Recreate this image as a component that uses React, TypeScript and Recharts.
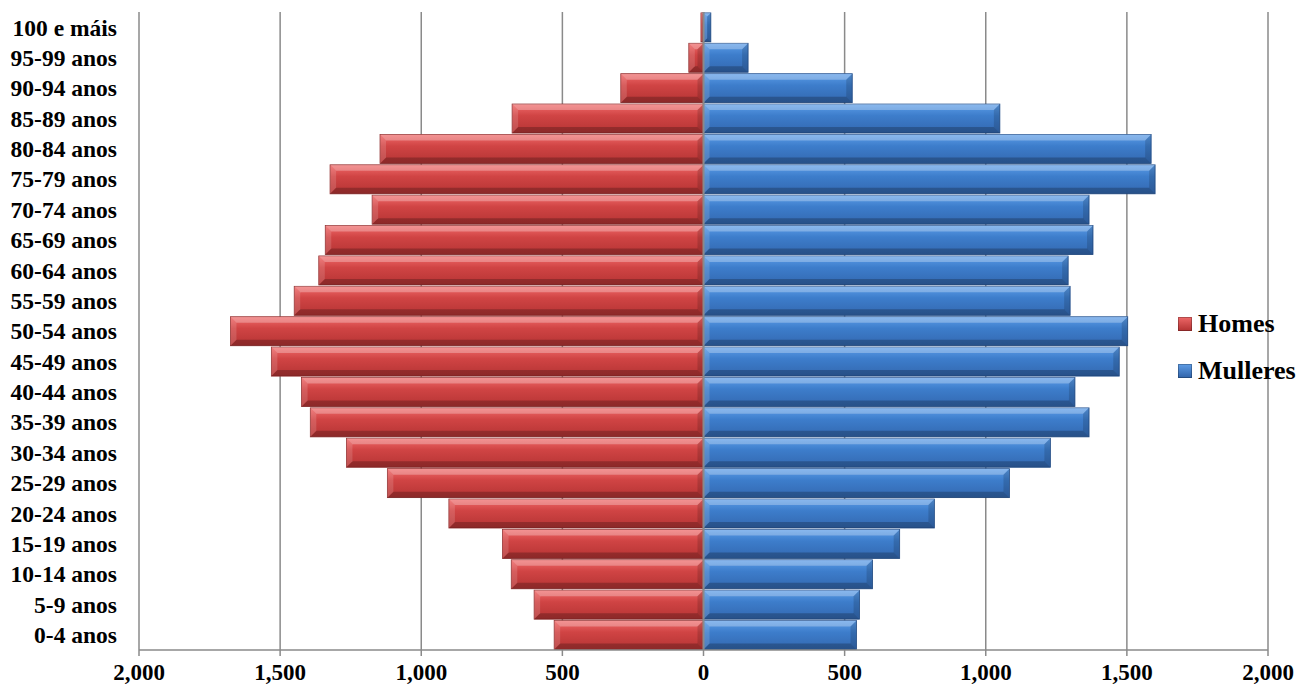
import React from 'react';
import { BarChart, Bar, XAxis, YAxis, CartesianGrid, ReferenceLine } from 'recharts';

const ageGroups = [
  '0-4 anos', '5-9 anos', '10-14 anos', '15-19 anos', '20-24 anos', '25-29 anos',
  '30-34 anos', '35-39 anos', '40-44 anos', '45-49 anos', '50-54 anos', '55-59 anos',
  '60-64 anos', '65-69 anos', '70-74 anos', '75-79 anos', '80-84 anos', '85-89 anos',
  '90-94 anos', '95-99 anos', '100 e máis'
];

const homes = [529, 600, 681, 712, 902, 1120, 1265, 1393, 1424, 1531, 1676, 1450, 1363, 1340, 1174, 1323, 1146, 678, 293, 52, 9];
const mulleres = [542, 553, 599, 695, 818, 1084, 1229, 1366, 1316, 1473, 1503, 1299, 1292, 1380, 1366, 1600, 1586, 1050, 527, 158, 26];

const xTicks = [-2000, -1500, -1000, -500, 0, 500, 1000, 1500, 2000];

const seriesNames = ['Homes', 'Mulleres'];

const FONT = '"Liberation Serif", "Times New Roman", serif';
const GRID = '#8a8a8a';

// men drawn to the left, so stored negative in the table the chart gets
const chartData = ageGroups.map((g, i) => ({
  group: g,
  homes: -homes[i],
  mulleres: mulleres[i],
}));

const fmt = (v: number) => Math.abs(v).toLocaleString('en-US');

const bevelShape = (faceId: string, edge: string) => (props: any) => {
  let { x, y, width, height } = props;
  if (width < 0) { x += width; width = -width; }
  if (!width || !height) return null;
  const b = Math.min(6, height / 4, width / 2);
  const x2 = x + width;
  const y2 = y + height;
  return (
    <g>
      <rect x={x} y={y} width={width} height={height} fill={`url(#${faceId})`} stroke={edge} strokeWidth={0.8} />
      <polygon points={`${x},${y} ${x2},${y} ${x2 - b},${y + b} ${x + b},${y + b}`} fill="rgba(255,255,255,0.28)" />
      <polygon points={`${x},${y2} ${x2},${y2} ${x2 - b},${y2 - b} ${x + b},${y2 - b}`} fill="rgba(0,0,0,0.22)" />
      <polygon points={`${x},${y} ${x + b},${y + b} ${x + b},${y2 - b} ${x},${y2}`} fill="rgba(255,255,255,0.14)" />
      <polygon points={`${x2},${y} ${x2 - b},${y + b} ${x2 - b},${y2 - b} ${x2},${y2}`} fill="rgba(0,0,0,0.14)" />
    </g>
  );
};

const legendSwatch = (top: string, bottom: string) => ({
  display: 'inline-block',
  width: 14,
  height: 14,
  marginRight: 6,
  background: `linear-gradient(${top}, ${bottom})`,
  boxShadow: 'inset 0 0 0 1px rgba(0,0,0,0.25)',
});

const legendColors = [
  ['#ee6868', '#b33232'],
  ['#5f9de6', '#2f62a8'],
];

export default function App() {
  return (
    <div style={{ position: 'absolute', left: 0, top: 0, width: 1301, height: 688, background: '#fff' }}>
      <BarChart
        width={1301}
        height={688}
        data={chartData}
        layout="vertical"
        stackOffset="sign"
        barCategoryGap="3%"
        margin={{ top: 12, right: 33, left: 0, bottom: 0 }}
      >
        <defs>
          <linearGradient id="homesFace" x1="0" y1="0" x2="0" y2="1">
            <stop offset="0%" stopColor="#f06a6a" />
            <stop offset="40%" stopColor="#d04444" />
            <stop offset="100%" stopColor="#b53434" />
          </linearGradient>
          <linearGradient id="mulleresFace" x1="0" y1="0" x2="0" y2="1">
            <stop offset="0%" stopColor="#5c9de8" />
            <stop offset="40%" stopColor="#3d7dcb" />
            <stop offset="100%" stopColor="#3368b0" />
          </linearGradient>
        </defs>
        <CartesianGrid horizontal={false} stroke={GRID} strokeWidth={1.5} />
        <XAxis
          type="number"
          domain={[-2000, 2000]}
          ticks={xTicks}
          tickFormatter={fmt}
          height={38}
          axisLine={{ stroke: GRID, strokeWidth: 1.5 }}
          tickLine={{ stroke: GRID, strokeWidth: 1.5 }}
          tickSize={6}
          tickMargin={8}
          tick={{ fill: '#000', fontSize: 23, fontWeight: 700, fontFamily: FONT }}
        />
        <YAxis
          type="category"
          dataKey="group"
          reversed
          width={139}
          axisLine={false}
          tickLine={false}
          tickSize={0}
          tickMargin={22}
          interval={0}
          tick={{ fill: '#000', fontSize: 23.5, fontWeight: 700, fontFamily: FONT }}
        />
        <Bar
          dataKey="homes"
          name={seriesNames[0]}
          stackId="a"
          fill="#c83c3c"
          shape={bevelShape('homesFace', '#8e2a2a')}
          isAnimationActive={false}
        />
        <Bar
          dataKey="mulleres"
          name={seriesNames[1]}
          stackId="a"
          fill="#3b78c6"
          shape={bevelShape('mulleresFace', '#25508c')}
          isAnimationActive={false}
        />
        <ReferenceLine x={0} stroke={GRID} strokeWidth={2} />
      </BarChart>
      <div style={{ position: 'absolute', left: 1178, top: 300, fontFamily: FONT, fontWeight: 700, fontSize: 26 }}>
        {seriesNames.map((n, i) => (
          <div key={n} style={{ height: 47, display: 'flex', alignItems: 'center' }}>
            <span style={legendSwatch(legendColors[i][0], legendColors[i][1])} />
            <span>{n}</span>
          </div>
        ))}
      </div>
    </div>
  );
}
